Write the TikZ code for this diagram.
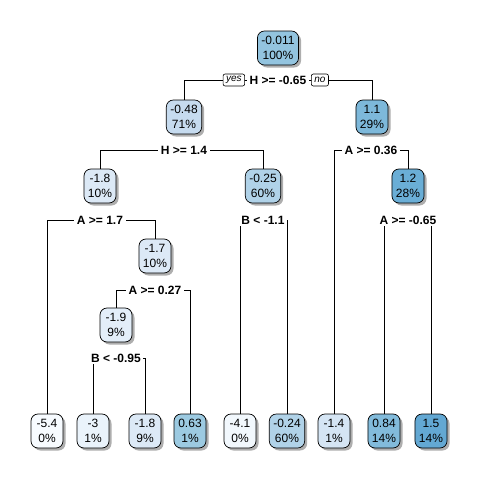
\documentclass[tikz,border=0pt]{standalone}
\usepackage{fontspec}
\setmainfont{Liberation Sans}
\usepackage{tikz}
\usetikzlibrary{positioning,shadows}
\definecolor{b00}{HTML}{F7FBFF}
\definecolor{b01}{HTML}{F2F8FD}
\definecolor{b02}{HTML}{EAF3FB}
\definecolor{b03}{HTML}{E3EEF9}
\definecolor{b04}{HTML}{DCE9F6}
\definecolor{b05}{HTML}{D5E5F4}
\definecolor{b06}{HTML}{C6DBEF}
\definecolor{b07}{HTML}{B0D2E8}
\definecolor{b08}{HTML}{9CCAE1}
\definecolor{b09}{HTML}{93C4DF}
\definecolor{b10}{HTML}{82BBDB}
\definecolor{b11}{HTML}{7DB8DA}
\definecolor{b12}{HTML}{6AAED6}
\definecolor{b13}{HTML}{63A8D3}
\pgfdeclarelayer{background}
\pgfsetlayers{background,main}

\begin{document}
\begin{tikzpicture}[
  x=1pt, y=-1pt,
  every node/.style={font=\fontsize{12}{14.5}\selectfont, align=center},
  box/.style={draw=black, line width=0.7pt, rounded corners=7pt, inner xsep=4pt, inner ysep=3pt,
    minimum width=32pt, minimum height=34pt,
    drop shadow={shadow xshift=2.5pt, shadow yshift=-2.5pt, fill=black!45, opacity=0.7}},
  split/.style={font=\fontsize{12}{14}\selectfont\bfseries, inner xsep=2.5pt, inner ysep=1.5pt, fill=white},
  tag/.style={draw=black, line width=0.6pt, rounded corners=2pt, fill=white,
    font=\fontsize{10}{11}\selectfont\itshape, inner xsep=3pt, inner ysep=1pt, minimum height=12pt},
  edge/.style={line width=0.7pt, draw=black}
]
\useasboundingbox (0,0) rectangle (480,480);

% inner nodes
\node[box, fill=b09] (root) at (278,48) {-0.011\\100\%};
\node[box, fill=b06] (n2) at (184,117) {-0.48\\71\%};
\node[box, fill=b11] (n3) at (372,117) {1.1\\29\%};
\node[box, fill=b04] (n4) at (100,186) {-1.8\\10\%};
\node[box, fill=b07] (n5) at (263,186) {-0.25\\60\%};
\node[box, fill=b12] (n7) at (408,186) {1.2\\28\%};
\node[box, fill=b04] (n9) at (155,256) {-1.7\\10\%};
\node[box, fill=b03] (n18) at (116,325) {-1.9\\9\%};

% leaves
\node[box, fill=b00] (l1) at (47,431) {-5.4\\0\%};
\node[box, fill=b02] (l2) at (93,431) {-3\\1\%};
\node[box, fill=b04] (l3) at (145,431) {-1.8\\9\%};
\node[box, fill=b08] (l4) at (190,431) {0.63\\1\%};
\node[box, fill=b01] (l5) at (240,431) {-4.1\\0\%};
\node[box, fill=b07] (l6) at (287,431) {-0.24\\60\%};
\node[box, fill=b05] (l7) at (334,431) {-1.4\\1\%};
\node[box, fill=b10] (l8) at (384,431) {0.84\\14\%};
\node[box, fill=b13] (l9) at (431,431) {1.5\\14\%};

% split labels
\node[split] (s1) at (278,80) {H >= -0.65};
\node[tag, left=2pt of s1] (yes) {yes};
\node[tag, right=2pt of s1] (no) {no};
\node[split] (s2) at (184,150) {H >= 1.4};
\node[split] (s3) at (371,150) {A >= 0.36};
\node[split] (s4) at (100,220) {A >= 1.7};
\node[split] (s5) at (263,220) {B < -1.1};
\node[split] (s7) at (408,220) {A >= -0.65};
\node[split] (s9) at (155,290) {A >= 0.27};
\node[split] (s18) at (116,358) {B < -0.95};

% connectors, behind the labels
\begin{pgfonlayer}{background}
\draw[edge] (yes.center) -| (n2.north);
\draw[edge] (yes.center) -- (no.center);
\draw[edge] (no.center) -| (n3.north);
\draw[edge] (s2.center) -| (n4.north);
\draw[edge] (s2.center) -| (n5.north);
\draw[edge] (s3.center) -| (l7.north);
\draw[edge] (s3.center) -| (n7.north);
\draw[edge] (s4.center) -| (l1.north);
\draw[edge] (s4.center) -| (n9.north);
\draw[edge] (s5.center) -| (l5.north);
\draw[edge] (s5.center) -| (l6.north);
\draw[edge] (s7.center) -| (l8.north);
\draw[edge] (s7.center) -| (l9.north);
\draw[edge] (s9.center) -| (n18.north);
\draw[edge] (s9.center) -| (l4.north);
\draw[edge] (s18.center) -| (l2.north);
\draw[edge] (s18.center) -| (l3.north);
\end{pgfonlayer}
\end{tikzpicture}
\end{document}
